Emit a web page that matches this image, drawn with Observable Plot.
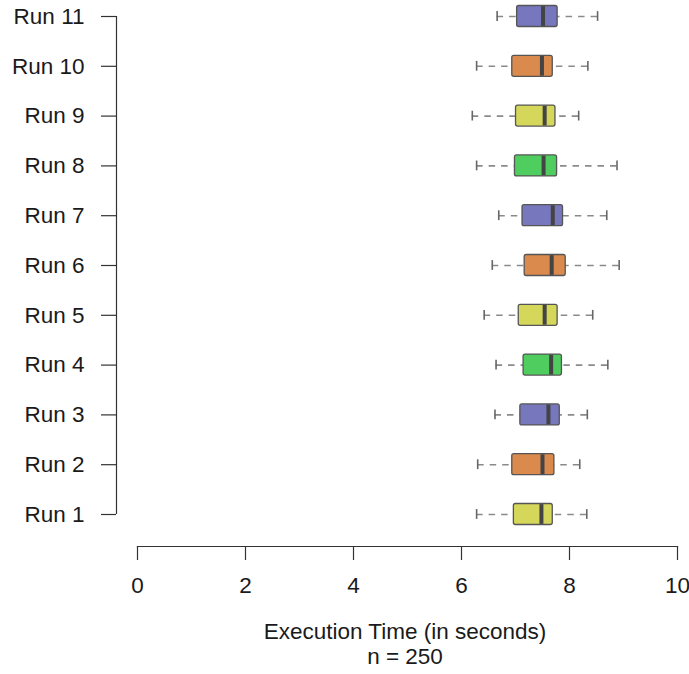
<!DOCTYPE html>
<html>
<head>
<meta charset="utf-8">
<script src="https://cdn.jsdelivr.net/npm/d3@7"></script>
<script src="https://cdn.jsdelivr.net/npm/@observablehq/plot@0.6"></script>
<style>
  html, body { margin: 0; padding: 0; background: #fff; }
  body { width: 689px; height: 674px; overflow: hidden; font-family: "Liberation Sans", Arial, sans-serif; }
  #caption { padding-left: 133px; padding-right: 12px; text-align: center; font-size: 22.5px; line-height: 25px; color: #1a1a1a; margin-top: 19px; }
</style>
</head>
<body>
<div id="chart"></div>
<div id="caption"><div>Execution Time (in seconds)</div><div>n = 250</div></div>
<script>
const runs = ["Run 1","Run 2","Run 3","Run 4","Run 5","Run 6","Run 7","Run 8","Run 9","Run 10","Run 11"];
const lowerWhisker = [6.28, 6.30, 6.62, 6.64, 6.42, 6.57, 6.69, 6.28, 6.20, 6.28, 6.66];
const q1           = [6.97, 6.94, 7.09, 7.15, 7.06, 7.17, 7.13, 6.99, 7.01, 6.94, 7.03];
const median       = [7.48, 7.50, 7.61, 7.66, 7.54, 7.67, 7.69, 7.52, 7.54, 7.49, 7.51];
const q3           = [7.69, 7.72, 7.82, 7.86, 7.78, 7.93, 7.88, 7.77, 7.74, 7.69, 7.78];
const upperWhisker = [8.32, 8.19, 8.33, 8.71, 8.43, 8.92, 8.69, 8.88, 8.17, 8.34, 8.52];
const xTicks = [0, 2, 4, 6, 8, 10];
const palette = ["#d5d75b", "#d98a4c", "#7777bd", "#4fcd5f"];

const data = runs.map((run, i) => ({
  run, group: i % 4,
  lo: lowerWhisker[i], q1: q1[i], med: median[i], q3: q3[i], hi: upperWhisker[i]
}));

const step = (514 - 16) / (runs.length - 1);
const plot = Plot.plot({
  width: 689,
  height: 600,
  marginTop: 0,
  marginLeft: 137,
  marginRight: 12,
  marginBottom: 54,
  style: { fontFamily: "'Liberation Sans', Arial, sans-serif", color: "#1a1a1a", background: "#fff" },
  x: { domain: [0, 10] },
  y: { type: "band", domain: runs.slice().reverse(), range: [16 - step / 2, 514 + step / 2], padding: 0, round: false },
  color: { domain: [0, 1, 2, 3], range: palette },
  marks: [
    Plot.frame({ anchor: "bottom", stroke: "#333", strokeWidth: 1.2 }),
    Plot.axisX({ ticks: xTicks, tickSize: 14, tickPadding: 17, fontSize: 22.5, label: null, stroke: "#333", strokeWidth: 1.2 }),
    Plot.ruleX([0], { x: d => d, y1: () => runs[0], y2: () => runs[runs.length - 1], insetTop: step / 2, insetBottom: step / 2, dx: -21, stroke: "#333", strokeWidth: 1.2 }),
    Plot.axisY({ tickSize: 15, tickPadding: 17, dx: -21, fontSize: 22.5, label: null, stroke: "#333", strokeWidth: 1.2 }),
    Plot.ruleY(data, { y: "run", x1: "lo", x2: "q1", stroke: "#8a8a8a", strokeWidth: 1.6, strokeDasharray: "6.5,6" }),
    Plot.ruleY(data, { y: "run", x1: "hi", x2: "q3", stroke: "#8a8a8a", strokeWidth: 1.6, strokeDasharray: "6.5,6" }),
    Plot.tickX(data, { x: "lo", y: "run", insetTop: 20, insetBottom: 20, stroke: "#666", strokeWidth: 1.6 }),
    Plot.tickX(data, { x: "hi", y: "run", insetTop: 20, insetBottom: 20, stroke: "#666", strokeWidth: 1.6 }),
    Plot.barX(data, { y: "run", x1: "q1", x2: "q3", fill: "group", stroke: "#555", strokeWidth: 1.3, insetTop: 14.4, insetBottom: 14.4, rx: 2 }),
    Plot.tickX(data, { x: "med", y: "run", insetTop: 15, insetBottom: 15, stroke: "#444", strokeWidth: 4 })
  ]
});
document.getElementById("chart").appendChild(plot);
</script>
</body>
</html>
